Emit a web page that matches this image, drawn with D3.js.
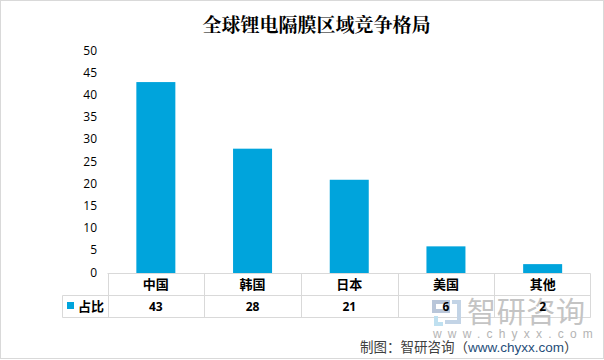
<!DOCTYPE html>
<html>
<head>
<meta charset="utf-8">
<script src="https://cdn.jsdelivr.net/npm/d3@7.9.0/dist/d3.min.js"></script>
<style>
  html, body { margin: 0; padding: 0; background: #fff; }
  svg { display: block; }
  text { font-family: "Noto Sans CJK SC", sans-serif; }
</style>
</head>
<body>
<div id="chart"></div>
<script>
const categories = ['中国', '韩国', '日本', '美国', '其他'];
const shares = [43, 28, 21, 6, 2];
const yTicks = [0, 5, 10, 15, 20, 25, 30, 35, 40, 45, 50];
const seriesName = '占比';
const chartTitle = '全球锂电隔膜区域竞争格局';
const sourceLabel = '制图：智研咨询（';
const sourceUrl = 'www.chyxx.com';

const width = 604;
const height = 360;
const barColor = '#00a4dc';
const gridColor = '#d9d9d9';

const svg = d3.select('#chart').append('svg')
  .attr('width', width)
  .attr('height', height);

// outer frame of the picture
svg.append('rect')
  .attr('x', 0.5).attr('y', 0.5)
  .attr('width', width - 1).attr('height', height - 2)
  .attr('fill', 'none')
  .attr('stroke', gridColor);

svg.append('text')
  .attr('x', 316.5).attr('y', 32)
  .attr('text-anchor', 'middle')
  .attr('font-size', 19)
  .attr('font-weight', 700)
  .style('font-family', '"Noto Serif CJK SC", "Noto Sans CJK SC", serif')
  .text(chartTitle);

const colX = d3.scaleBand().domain(categories).range([107.5, 591]);
const yScale = d3.scaleLinear().domain([0, 50]).range([273, 51]);
const barW = 39;
const cx = c => colX(c) + colX.bandwidth() / 2;

const yAxis = svg.append('g')
  .attr('transform', 'translate(97, 0)')
  .call(d3.axisLeft(yScale).tickValues(yTicks).tickSize(0).tickPadding(0));
yAxis.select('.domain').remove();
yAxis.selectAll('text')
  .attr('font-size', 12)
  .attr('fill', '#000')
  .attr('dy', '0.25em')
  .style('font-family', '"Open Sans", sans-serif');

svg.append('g').selectAll('rect')
  .data(shares)
  .join('rect')
  .attr('x', (d, i) => cx(categories[i]) - barW / 2)
  .attr('y', d => yScale(d))
  .attr('width', barW)
  .attr('height', d => yScale(0) - yScale(d))
  .attr('fill', barColor);

// data table under the plot
const rowTop = 273.5, rowMid = 295.5, rowBot = 317.5, legendLeft = 62.5;
const table = svg.append('g').attr('stroke', gridColor).attr('fill', 'none');
const hLine = (x1, x2, y) => table.append('line')
  .attr('x1', x1).attr('x2', x2).attr('y1', y).attr('y2', y);
const vLine = (x, y1, y2) => table.append('line')
  .attr('x1', x).attr('x2', x).attr('y1', y1).attr('y2', y2);
hLine(107.5, 590.5, rowTop);
hLine(legendLeft, 590.5, rowMid);
hLine(legendLeft, 590.5, rowBot);
vLine(legendLeft, rowMid, rowBot);
categories.forEach(c => vLine(Math.round(colX(c)) + 0.5, rowTop, rowBot));
vLine(590.5, rowTop, rowBot);

// watermark sits under the table labels
const wm = svg.append('g');
wm.append('text')
  .attr('x', 467).attr('y', 323)
  .attr('font-size', 29)
  .attr('textLength', 118)
  .attr('fill', '#c4c4c4')
  .text('智研咨询');
wm.append('text')
  .attr('x', 433).attr('y', 337.5)
  .attr('font-size', 12)
  .style('letter-spacing', '6.2px')
  .attr('fill', '#b4b4b4')
  .style('font-family', '"Liberation Sans", sans-serif')
  .text('www.chyxx.com');
const logo = wm.append('g').attr('fill', 'none').attr('stroke-width', 4);
logo.append('path').attr('d', 'M434 302H448V311H434Z').attr('stroke', '#b9c6d9');
logo.append('path').attr('d', 'M452 302H459V322H445').attr('stroke', '#c3d4e6');
logo.append('path').attr('d', 'M436 316V324H443').attr('stroke', '#bfe0f0');

svg.append('g').selectAll('text')
  .data(categories)
  .join('text')
  .attr('x', d => cx(d))
  .attr('y', 288.5)
  .attr('text-anchor', 'middle')
  .attr('font-size', 13)
  .attr('font-weight', 700)
  .text(d => d);

svg.append('g').selectAll('text')
  .data(shares)
  .join('text')
  .attr('x', (d, i) => cx(categories[i]))
  .attr('y', 311)
  .attr('text-anchor', 'middle')
  .attr('font-size', 12)
  .attr('font-weight', 700)
  .style('font-family', '"Open Sans", sans-serif')
  .text(d => d);

svg.append('rect')
  .attr('x', 67).attr('y', 302)
  .attr('width', 7).attr('height', 7)
  .attr('fill', barColor);
svg.append('text')
  .attr('x', 78).attr('y', 311)
  .attr('font-size', 13)
  .attr('font-weight', 700)
  .text(seriesName);

const source = svg.append('text')
  .attr('x', 360).attr('y', 351.5)
  .attr('font-size', 13.5)
  .attr('fill', '#404040');
source.append('tspan').text(sourceLabel);
source.append('tspan').attr('fill', '#1f4e79').style('font-family', '"Liberation Sans", sans-serif').text(sourceUrl);
source.append('tspan').text('）');
</script>
</body>
</html>
